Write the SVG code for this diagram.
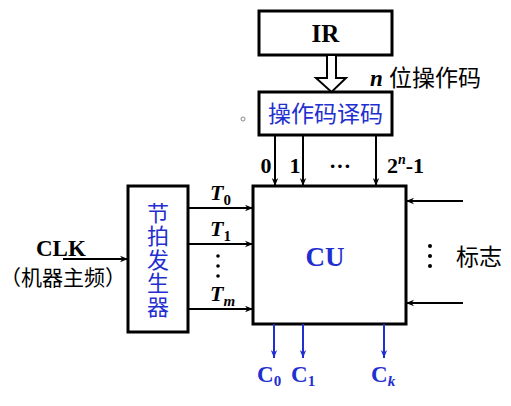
<svg xmlns="http://www.w3.org/2000/svg" width="511" height="406" viewBox="0 0 511 406">
<defs>
<marker id="ah" viewBox="0 0 10 10" refX="10" refY="5" markerWidth="8" markerHeight="8" markerUnits="userSpaceOnUse" orient="auto"><path d="M0,1 L10,5 L0,9 L3,5 Z" fill="#000"/></marker>
<marker id="ahb" viewBox="0 0 10 10" refX="10" refY="5" markerWidth="8" markerHeight="8" markerUnits="userSpaceOnUse" orient="auto"><path d="M0,1 L10,5 L0,9 L3,5 Z" fill="#1f2fd0"/></marker>
<style>
.box{fill:#fff;stroke:#000;stroke-width:3}
.ln{stroke:#000;stroke-width:2;fill:none;marker-end:url(#ah)}
.lb{stroke:#1f2fd0;stroke-width:2;fill:none;marker-end:url(#ahb)}
.en{font-family:"Liberation Serif",serif;font-weight:bold;fill:#000}
.cn{font-family:"Noto Sans CJK SC",sans-serif;fill:#000}
.blue{fill:#1f2fd0}
</style>
</defs>
<rect width="511" height="406" fill="#fff"/>
<g id="ir"><rect class="box" x="259" y="11" width="133" height="44"/><text class="en" x="325.5" y="42" font-size="25" text-anchor="middle">IR</text></g>
<g id="decoder"><rect class="box" x="259" y="92" width="133" height="43"/><text class="cn blue" x="325.5" y="122" font-size="23" text-anchor="middle">操作码译码</text></g>
<g id="timer"><rect class="box" x="128" y="186" width="60" height="146"/>
<text class="cn blue" x="158" y="260" font-size="22" text-anchor="middle" writing-mode="vertical-rl" letter-spacing="1.5">节拍发生器</text></g>
<g id="cu"><rect class="box" x="253" y="186" width="153" height="138"/><text class="en blue" x="325" y="266" font-size="27" text-anchor="middle">CU</text></g>
<g id="connectors">
<polygon points="327,55 336,55 336,78 346,78 331.5,92 316,78 327,78" fill="#fff" stroke="#000" stroke-width="2" stroke-linejoin="miter"/>
<line class="ln" x1="275" y1="135" x2="275" y2="186"/>
<line class="ln" x1="303" y1="135" x2="303" y2="186"/>
<line class="ln" x1="376" y1="135" x2="376" y2="186"/>
<line class="ln" x1="188" y1="208" x2="253" y2="208"/>
<line class="ln" x1="188" y1="244" x2="253" y2="244"/>
<line class="ln" x1="188" y1="309" x2="253" y2="309"/>
<line class="ln" x1="63" y1="259" x2="128" y2="259"/>
<line class="ln" x1="463" y1="201" x2="406" y2="201"/>
<line class="ln" x1="463" y1="303" x2="406" y2="303"/>
<line class="lb" x1="274" y1="324" x2="274" y2="358"/>
<line class="lb" x1="303" y1="324" x2="303" y2="358"/>
<line class="lb" x1="384" y1="324" x2="384" y2="358"/>
</g>
<g id="labels">
<text class="en" x="370" y="86" font-size="23" font-style="italic">n</text>
<text class="cn" x="389" y="86" font-size="23">位操作码</text>
<circle cx="243" cy="119" r="2" fill="none" stroke="#888" stroke-width="1"/>
<text class="en" x="266" y="173" font-size="22" text-anchor="middle">0</text>
<text class="en" x="295" y="173" font-size="22" text-anchor="middle">1</text>
<text class="en" x="340" y="173" font-size="22" text-anchor="middle">···</text>
<text class="en" x="387" y="173" font-size="22">2<tspan font-size="14" dy="-9" font-style="italic">n</tspan><tspan dy="9">-1</tspan></text>
<text class="en" x="210" y="200" font-size="22" font-style="italic">T<tspan font-size="15" dy="5" font-style="normal">0</tspan></text>
<text class="en" x="210" y="236" font-size="22" font-style="italic">T<tspan font-size="15" dy="5" font-style="normal">1</tspan></text>
<text class="en" x="210" y="301" font-size="22" font-style="italic">T<tspan font-size="15" dy="5">m</tspan></text>
<circle cx="218" cy="256" r="1.8" fill="#000"/><circle cx="218" cy="266" r="1.8" fill="#000"/><circle cx="218" cy="276" r="1.8" fill="#000"/>
<text class="en" x="36" y="256" font-size="23">CLK</text>
<text class="cn" x="0" y="285" font-size="21">（机器主频）</text>
<circle cx="430" cy="246" r="2" fill="#000"/><circle cx="430" cy="256" r="2" fill="#000"/><circle cx="430" cy="266" r="2" fill="#000"/>
<text class="cn" x="456" y="265" font-size="23">标志</text>
<text class="en blue" x="257" y="382" font-size="23">C<tspan font-size="15" dy="4">0</tspan></text>
<text class="en blue" x="291" y="382" font-size="23">C<tspan font-size="15" dy="4">1</tspan></text>
<text class="en blue" x="371" y="382" font-size="23">C<tspan font-size="15" dy="4" font-style="italic">k</tspan></text>
</g>
</svg>
